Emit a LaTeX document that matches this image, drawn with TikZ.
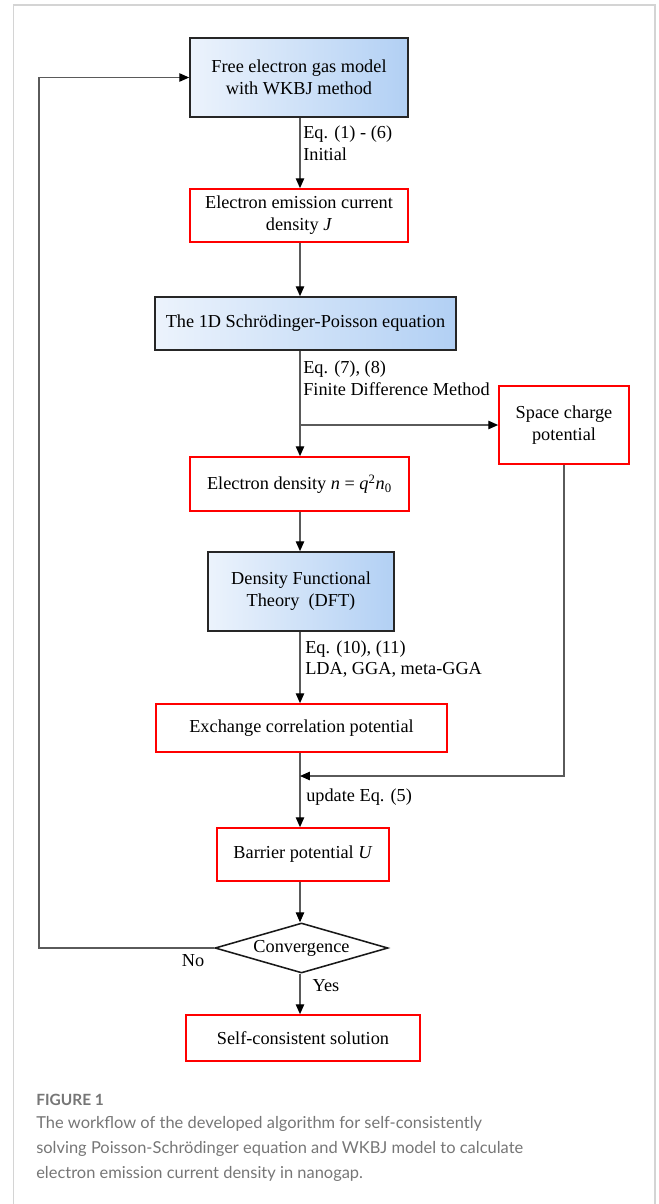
\documentclass[tikz,border=0pt]{standalone}
\usepackage{fontspec}
\setmainfont{Liberation Serif}
\newfontfamily\capfont{Lato}
\usetikzlibrary{positioning,arrows.meta,shapes.geometric}
\definecolor{boxblue}{RGB}{178,208,244}
\definecolor{boxpale}{RGB}{236,243,252}
\definecolor{linegray}{RGB}{90,90,90}
\definecolor{capgray}{RGB}{118,118,118}
\definecolor{framegray}{RGB}{212,212,212}
\begin{document}
\begin{tikzpicture}[x=0.025cm, y=-0.025cm,
  wh/.style 2 args={minimum width=#1*0.025cm, minimum height=#2*0.025cm},
  fc/.style={font=\fontsize{13}{15.5}\selectfont},
  bluebox/.style={fc, draw=black!85, line width=1.2pt, left color=boxpale, right color=boxblue, align=center, inner sep=0pt},
  redbox/.style={fc, draw=red, line width=1.2pt, fill=white, align=center, inner sep=0pt},
  decide/.style={fc, diamond, draw=black!90, line width=1.1pt, aspect=3.4, inner sep=0pt},
  lbl/.style={fc, align=left, inner sep=0pt, anchor=west},
  conn/.style={draw=linegray, line width=0.8pt, -{Triangle[length=7pt,width=6pt,black]}},
  plain/.style={draw=linegray, line width=0.8pt}
]
\useasboundingbox (0,0) rectangle (658,1204);
\draw[framegray, line width=0.8pt] (13.5,1204) -- (13.5,5) -- (655,5) -- (655,1204);

\node[bluebox, wh={218}{79}] (free) at (299,77.5) {Free electron gas model\\with WKBJ method};
\node[redbox, wh={218}{53}] (emis) at (299,215.5) {Electron emission current\\density \textit{J}};
\node[bluebox, wh={301}{53}] (sp) at (305.5,323.5) {The 1D Schrödinger-Poisson equation};
\node[redbox, wh={130}{78}] (scp) at (564,425) {Space charge\\potential};
\node[redbox, wh={219}{54}] (dens) at (299.5,484) {Electron density \textit{n} = \textit{q}\textsuperscript{2}\textit{n}\textsubscript{0}};
\node[bluebox, wh={186}{79}] (dft) at (301,591.5) {Density Functional\\Theory\ \ (DFT)};
\node[redbox, wh={291}{48}] (xc) at (301.5,728) {Exchange correlation potential};
\node[redbox, wh={172}{53}] (bar) at (303,854.5) {Barrier potential \textit{U}};
\node[decide, wh={173}{50}] (conv) at (301.5,948) {Convergence};
\node[redbox, wh={234}{46}] (self) at (303,1038) {Self-consistent solution};

\coordinate (ax) at (300,0);
\coordinate (upd) at (300,776);
\coordinate (back) at (39,0);

\draw[conn] (free.south -| ax) -- (emis.north -| ax);
\draw[conn] (emis.south -| ax) -- (sp.north -| ax);
\draw[conn] (sp.south -| ax) -- (dens.north -| ax);
\draw[conn] (ax |- scp.west) -- (scp.west);
\draw[conn] (dens.south -| ax) -- (dft.north -| ax);
\draw[conn] (dft.south -| ax) -- (xc.north -| ax);
\draw[conn] (xc.south -| ax) -- (bar.north -| ax);
\draw[conn] (scp.south) |- (upd);
\draw[conn] (bar.south -| ax) -- (conv.north -| ax);
\draw[conn] (conv.south -| ax) -- (self.north -| ax);
\draw[conn] (conv.west) -- (conv.west -| back) |- (free.west);

\node[lbl] (l1) at (303,143) {Eq. (1) - (6)\\Initial};
\node[lbl] (l2) at (303,378) {Eq. (7), (8)\\Finite Difference Method};
\node[lbl] (l3) at (305,659) {Eq. (10), (11)\\LDA, GGA, meta-GGA};
\node[lbl] (l4) at (306,797) {update Eq. (5)};
\node[fc, inner sep=0pt] (no) at (193,961) {No};
\node[fc, inner sep=0pt] (yes) at (326,986) {Yes};

\node[anchor=west, inner sep=0pt, text=capgray, font=\capfont\bfseries\fontsize{11}{14}\selectfont] (fig) at (36,1100) {FIGURE 1};
\node[anchor=west, inner sep=0pt, align=left, text=capgray, font=\capfont\fontsize{11.7}{17.8}\selectfont] (cap) at (36,1149) {The workflow of the developed algorithm for self-consistently\\solving Poisson-Schrödinger equation and WKBJ model to calculate\\electron emission current density in nanogap.};
\end{tikzpicture}
\end{document}
